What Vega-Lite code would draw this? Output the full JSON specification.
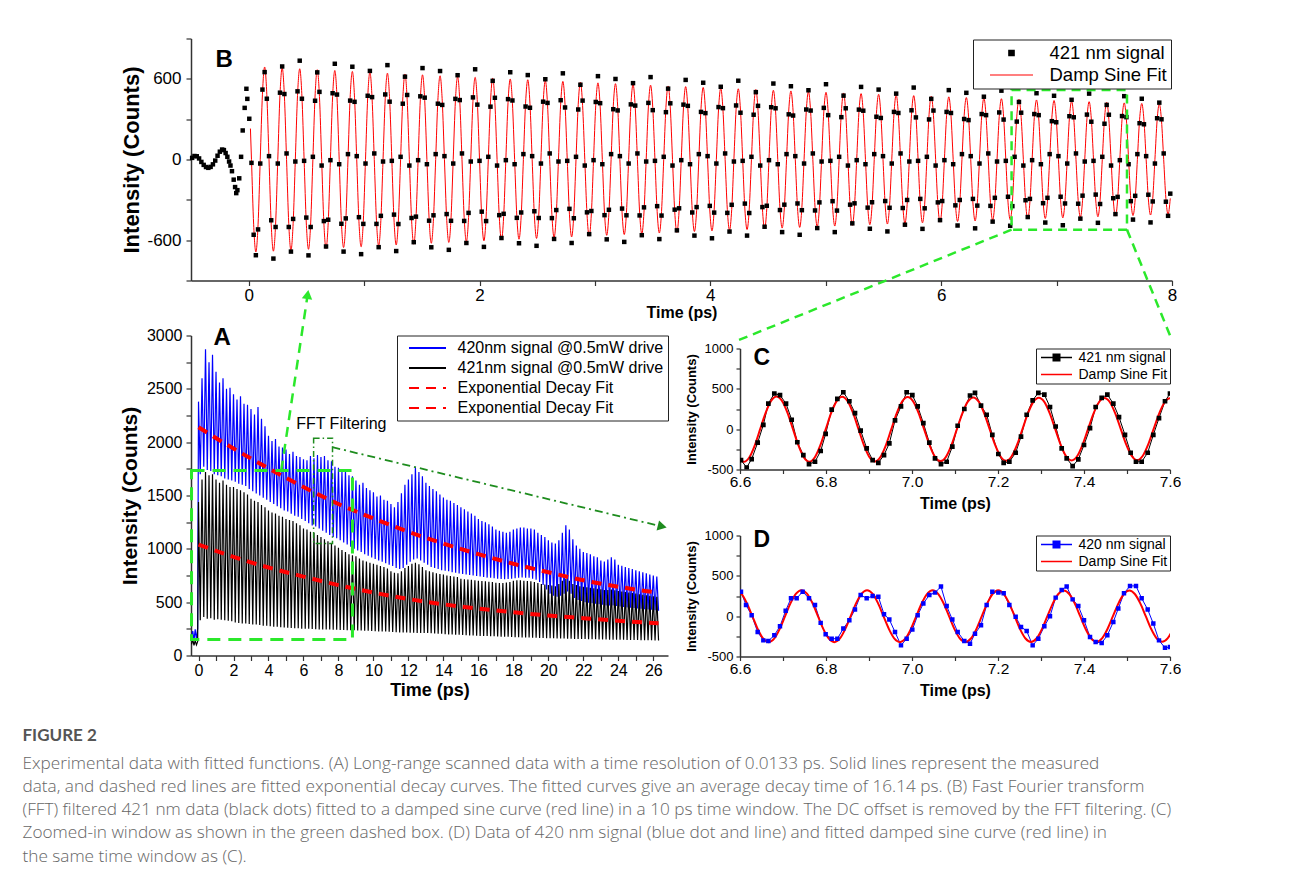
{
"$schema":"https://vega.github.io/schema/vega-lite/v6.json",
"background":"white",
"padding":{"left":22,"top":29.5,"right":0,"bottom":0},
"bounds":"flush",
"spacing":55,
"resolve":{"scale":{"color":"independent","shape":"independent","strokeDash":"independent"},"legend":{"color":"independent","shape":"independent","strokeDash":"independent"}},
"title":{"text":"FIGURE 2","subtitle":["Experimental data with fitted functions. (A) Long-range scanned data with a time resolution of 0.0133 ps. Solid lines represent the measured","data, and dashed red lines are fitted exponential decay curves. The fitted curves give an average decay time of 16.14 ps. (B) Fast Fourier transform","(FFT) filtered 421 nm data (black dots) fitted to a damped sine curve (red line) in a 10 ps time window. The DC offset is removed by the FFT filtering. (C)","Zoomed-in window as shown in the green dashed box. (D) Data of 420 nm signal (blue dot and line) and fitted damped sine curve (red line) in","the same time window as (C)."],"orient":"bottom","anchor":"start","frame":"group","dx":-168.5,"offset":28,"font":"Lato","fontSize":17,"fontWeight":"bold","color":"#555555","subtitleFont":"Open Sans","subtitleFontSize":17.2,"subtitleFontWeight":300,"subtitleColor":"#666666","subtitleLineHeight":23.3,"subtitlePadding":10},
"config":{"font":"Liberation Sans","view":{"stroke":null},
"axis":{"grid":false,"domainColor":"#333","domainWidth":1.5,"tickColor":"#333","tickWidth":1.2,"tickSize":5,"tickCount":100,"labelColor":"#000","titleColor":"#000","labelFont":"Liberation Sans","titleFont":"Liberation Sans","titleFontWeight":"bold","labelFlush":false,"labelOverlap":false,"labelBound":false},
"legend":{"labelFont":"Liberation Sans","labelColor":"#000","strokeColor":"#222","fillColor":"white","symbolType":"stroke"}},
"datasets":{
"bdata":[{"t":-0.49,"d":12},{"t":-0.47,"d":26},{"t":-0.45,"d":24},{"t":-0.43,"d":8},{"t":-0.41,"d":-18},{"t":-0.39,"d":-40},{"t":-0.37,"d":-56},{"t":-0.35,"d":-62},{"t":-0.33,"d":-55},{"t":-0.31,"d":-36},{"t":-0.29,"d":-8},{"t":-0.27,"d":28},{"t":-0.25,"d":58},{"t":-0.23,"d":74},{"t":-0.215,"d":70},{"t":-0.2,"d":48},{"t":-0.185,"d":20},{"t":-0.17,"d":-15},{"t":-0.158,"d":-45},{"t":-0.145,"d":-87},{"t":-0.13,"d":-150},{"t":-0.118,"d":-205},{"t":-0.108,"d":-250},{"t":-0.098,"d":-228},{"t":-0.082,"d":-140},{"t":-0.066,"d":20},{"t":-0.052,"d":216},{"t":-0.035,"d":384},{"t":-0.02,"d":526},{"t":-0.012,"d":451},{"t":0.005,"d":303},{"t":0.015,"f":230},
{"t":0.024,"d":-25,"f":0},{"t":0.043,"d":-560,"f":-486},{"t":0.062,"d":-712,"f":-688},{"t":0.081,"d":-520,"f":-486},{"t":0.1,"d":-30,"f":0},{"t":0.119,"d":520,"f":486},{"t":0.138,"d":650,"f":688},
{"t":0.157,"d":452,"f":482},{"t":0.176,"d":25,"f":0},{"t":0.195,"d":-452,"f":-482},{"t":0.214,"d":-737,"f":-682},{"t":0.233,"d":-502,"f":-482},{"t":0.252,"d":-30,"f":0},{"t":0.271,"d":497,"f":482},{"t":0.29,"d":692,"f":682},
{"t":0.309,"d":487,"f":477},{"t":0.328,"d":45,"f":0},{"t":0.347,"d":-502,"f":-477},{"t":0.366,"d":-685,"f":-675},{"t":0.385,"d":-442,"f":-477},{"t":0.404,"d":-15,"f":0},{"t":0.423,"d":507,"f":477},{"t":0.442,"d":735,"f":675},
{"t":0.461,"d":452,"f":472},{"t":0.48,"d":-10,"f":0},{"t":0.499,"d":-432,"f":-472},{"t":0.518,"d":-713,"f":-668},{"t":0.537,"d":-502,"f":-472},{"t":0.556,"d":20,"f":0},{"t":0.575,"d":437,"f":472},{"t":0.594,"d":648,"f":668},
{"t":0.613,"d":503,"f":468},{"t":0.632,"d":-45,"f":0},{"t":0.651,"d":-458,"f":-468},{"t":0.67,"d":-647,"f":-662},{"t":0.689,"d":-448,"f":-468},{"t":0.708,"d":-5,"f":0},{"t":0.727,"d":493,"f":468},{"t":0.746,"d":712,"f":662},
{"t":0.765,"d":483,"f":463},{"t":0.784,"d":-35,"f":0},{"t":0.803,"d":-478,"f":-463},{"t":0.822,"d":-685,"f":-655},{"t":0.841,"d":-438,"f":-463},{"t":0.86,"d":40,"f":0},{"t":0.879,"d":438,"f":463},{"t":0.898,"d":690,"f":655},
{"t":0.917,"d":429,"f":459},{"t":0.936,"d":25,"f":0},{"t":0.955,"d":-429,"f":-459},{"t":0.974,"d":-704,"f":-649},{"t":0.993,"d":-479,"f":-459},{"t":1.012,"d":-30,"f":0},{"t":1.031,"d":474,"f":459},{"t":1.05,"d":659,"f":649},
{"t":1.069,"d":464,"f":454},{"t":1.088,"d":45,"f":0},{"t":1.107,"d":-479,"f":-454},{"t":1.126,"d":-652,"f":-642},{"t":1.145,"d":-419,"f":-454},{"t":1.164,"d":-15,"f":0},{"t":1.183,"d":484,"f":454},{"t":1.202,"d":702,"f":642},
{"t":1.221,"d":430,"f":450},{"t":1.24,"d":-10,"f":0},{"t":1.259,"d":-410,"f":-450},{"t":1.278,"d":-681,"f":-636},{"t":1.297,"d":-480,"f":-450},{"t":1.316,"d":20,"f":0},{"t":1.335,"d":415,"f":450},{"t":1.354,"d":616,"f":636},
{"t":1.373,"d":480,"f":445},{"t":1.392,"d":-45,"f":0},{"t":1.411,"d":-435,"f":-445},{"t":1.43,"d":-615,"f":-630},{"t":1.449,"d":-425,"f":-445},{"t":1.468,"d":-5,"f":0},{"t":1.487,"d":470,"f":445},{"t":1.506,"d":680,"f":630},
{"t":1.525,"d":460,"f":440},{"t":1.544,"d":-35,"f":0},{"t":1.563,"d":-455,"f":-440},{"t":1.582,"d":-653,"f":-623},{"t":1.601,"d":-415,"f":-440},{"t":1.62,"d":40,"f":0},{"t":1.639,"d":415,"f":440},{"t":1.658,"d":658,"f":623},
{"t":1.677,"d":406,"f":436},{"t":1.696,"d":25,"f":0},{"t":1.715,"d":-406,"f":-436},{"t":1.734,"d":-672,"f":-617},{"t":1.753,"d":-456,"f":-436},{"t":1.772,"d":-30,"f":0},{"t":1.791,"d":451,"f":436},{"t":1.81,"d":627,"f":617},
{"t":1.829,"d":442,"f":432},{"t":1.848,"d":45,"f":0},{"t":1.867,"d":-457,"f":-432},{"t":1.886,"d":-621,"f":-611},{"t":1.905,"d":-397,"f":-432},{"t":1.924,"d":-15,"f":0},{"t":1.943,"d":462,"f":432},{"t":1.962,"d":671,"f":611},
{"t":1.981,"d":408,"f":428},{"t":2.0,"d":-10,"f":0},{"t":2.019,"d":-388,"f":-428},{"t":2.038,"d":-650,"f":-605},{"t":2.057,"d":-458,"f":-428},{"t":2.076,"d":20,"f":0},{"t":2.095,"d":393,"f":428},{"t":2.114,"d":585,"f":605},
{"t":2.133,"d":459,"f":424},{"t":2.152,"d":-45,"f":0},{"t":2.171,"d":-414,"f":-424},{"t":2.19,"d":-584,"f":-599},{"t":2.209,"d":-404,"f":-424},{"t":2.228,"d":-5,"f":0},{"t":2.247,"d":449,"f":424},{"t":2.266,"d":649,"f":599},
{"t":2.285,"d":439,"f":419},{"t":2.304,"d":-35,"f":0},{"t":2.323,"d":-434,"f":-419},{"t":2.342,"d":-623,"f":-593},{"t":2.361,"d":-394,"f":-419},{"t":2.38,"d":40,"f":0},{"t":2.399,"d":394,"f":419},{"t":2.418,"d":628,"f":593},
{"t":2.437,"d":385,"f":415},{"t":2.456,"d":25,"f":0},{"t":2.475,"d":-385,"f":-415},{"t":2.494,"d":-642,"f":-587},{"t":2.513,"d":-435,"f":-415},{"t":2.532,"d":-30,"f":0},{"t":2.551,"d":430,"f":415},{"t":2.57,"d":597,"f":587},
{"t":2.589,"d":421,"f":411},{"t":2.608,"d":45,"f":0},{"t":2.627,"d":-436,"f":-411},{"t":2.646,"d":-591,"f":-581},{"t":2.665,"d":-376,"f":-411},{"t":2.684,"d":-15,"f":0},{"t":2.703,"d":441,"f":411},{"t":2.722,"d":641,"f":581},
{"t":2.741,"d":387,"f":407},{"t":2.76,"d":-10,"f":0},{"t":2.779,"d":-367,"f":-407},{"t":2.798,"d":-621,"f":-576},{"t":2.817,"d":-437,"f":-407},{"t":2.836,"d":20,"f":0},{"t":2.855,"d":372,"f":407},{"t":2.874,"d":556,"f":576},
{"t":2.893,"d":438,"f":403},{"t":2.912,"d":-45,"f":0},{"t":2.931,"d":-393,"f":-403},{"t":2.95,"d":-555,"f":-570},{"t":2.969,"d":-383,"f":-403},{"t":2.988,"d":-5,"f":0},{"t":3.007,"d":428,"f":403},{"t":3.026,"d":620,"f":570},
{"t":3.045,"d":419,"f":399},{"t":3.064,"d":-35,"f":0},{"t":3.083,"d":-414,"f":-399},{"t":3.102,"d":-594,"f":-564},{"t":3.121,"d":-374,"f":-399},{"t":3.14,"d":40,"f":0},{"t":3.159,"d":374,"f":399},{"t":3.178,"d":599,"f":564},
{"t":3.197,"d":365,"f":395},{"t":3.216,"d":25,"f":0},{"t":3.235,"d":-365,"f":-395},{"t":3.254,"d":-613,"f":-558},{"t":3.273,"d":-415,"f":-395},{"t":3.292,"d":-30,"f":0},{"t":3.311,"d":410,"f":395},{"t":3.33,"d":568,"f":558},
{"t":3.349,"d":401,"f":391},{"t":3.368,"d":45,"f":0},{"t":3.387,"d":-416,"f":-391},{"t":3.406,"d":-563,"f":-553},{"t":3.425,"d":-356,"f":-391},{"t":3.444,"d":-15,"f":0},{"t":3.463,"d":421,"f":391},{"t":3.482,"d":613,"f":553},
{"t":3.501,"d":367,"f":387},{"t":3.52,"d":-10,"f":0},{"t":3.539,"d":-347,"f":-387},{"t":3.558,"d":-592,"f":-547},{"t":3.577,"d":-417,"f":-387},{"t":3.596,"d":20,"f":0},{"t":3.615,"d":352,"f":387},{"t":3.634,"d":527,"f":547},
{"t":3.653,"d":418,"f":383},{"t":3.672,"d":-45,"f":0},{"t":3.691,"d":-373,"f":-383},{"t":3.71,"d":-527,"f":-542},{"t":3.729,"d":-363,"f":-383},{"t":3.748,"d":-5,"f":0},{"t":3.767,"d":408,"f":383},{"t":3.786,"d":592,"f":542},
{"t":3.805,"d":399,"f":379},{"t":3.824,"d":-35,"f":0},{"t":3.843,"d":-394,"f":-379},{"t":3.862,"d":-566,"f":-536},{"t":3.881,"d":-354,"f":-379},{"t":3.9,"d":40,"f":0},{"t":3.919,"d":354,"f":379},{"t":3.938,"d":571,"f":536},
{"t":3.957,"d":345,"f":375},{"t":3.976,"d":25,"f":0},{"t":3.995,"d":-345,"f":-375},{"t":4.014,"d":-586,"f":-531},{"t":4.033,"d":-395,"f":-375},{"t":4.052,"d":-30,"f":0},{"t":4.071,"d":390,"f":375},{"t":4.09,"d":541,"f":531},
{"t":4.109,"d":382,"f":372},{"t":4.128,"d":45,"f":0},{"t":4.147,"d":-397,"f":-372},{"t":4.166,"d":-536,"f":-526},{"t":4.185,"d":-337,"f":-372},{"t":4.204,"d":-15,"f":0},{"t":4.223,"d":402,"f":372},{"t":4.242,"d":586,"f":526},
{"t":4.261,"d":348,"f":368},{"t":4.28,"d":-10,"f":0},{"t":4.299,"d":-328,"f":-368},{"t":4.318,"d":-566,"f":-521},{"t":4.337,"d":-398,"f":-368},{"t":4.356,"d":20,"f":0},{"t":4.375,"d":333,"f":368},{"t":4.394,"d":501,"f":521},
{"t":4.413,"d":399,"f":364},{"t":4.432,"d":-45,"f":0},{"t":4.451,"d":-354,"f":-364},{"t":4.47,"d":-500,"f":-515},{"t":4.489,"d":-344,"f":-364},{"t":4.508,"d":-5,"f":0},{"t":4.527,"d":389,"f":364},{"t":4.546,"d":565,"f":515},
{"t":4.565,"d":381,"f":361},{"t":4.584,"d":-35,"f":0},{"t":4.603,"d":-376,"f":-361},{"t":4.622,"d":-540,"f":-510},{"t":4.641,"d":-336,"f":-361},{"t":4.66,"d":40,"f":0},{"t":4.679,"d":336,"f":361},{"t":4.698,"d":545,"f":510},
{"t":4.717,"d":327,"f":357},{"t":4.736,"d":25,"f":0},{"t":4.755,"d":-327,"f":-357},{"t":4.774,"d":-560,"f":-505},{"t":4.793,"d":-377,"f":-357},{"t":4.812,"d":-30,"f":0},{"t":4.831,"d":372,"f":357},{"t":4.85,"d":515,"f":505},
{"t":4.869,"d":364,"f":354},{"t":4.888,"d":45,"f":0},{"t":4.907,"d":-379,"f":-354},{"t":4.926,"d":-510,"f":-500},{"t":4.945,"d":-319,"f":-354},{"t":4.964,"d":-15,"f":0},{"t":4.983,"d":384,"f":354},{"t":5.002,"d":560,"f":500},
{"t":5.021,"d":330,"f":350},{"t":5.04,"d":-10,"f":0},{"t":5.059,"d":-310,"f":-350},{"t":5.078,"d":-540,"f":-495},{"t":5.097,"d":-380,"f":-350},{"t":5.116,"d":20,"f":0},{"t":5.135,"d":315,"f":350},{"t":5.154,"d":475,"f":495},
{"t":5.173,"d":381,"f":346},{"t":5.192,"d":-45,"f":0},{"t":5.211,"d":-336,"f":-346},{"t":5.23,"d":-475,"f":-490},{"t":5.249,"d":-326,"f":-346},{"t":5.268,"d":-5,"f":0},{"t":5.287,"d":371,"f":346},{"t":5.306,"d":540,"f":490},
{"t":5.325,"d":363,"f":343},{"t":5.344,"d":-35,"f":0},{"t":5.363,"d":-358,"f":-343},{"t":5.382,"d":-515,"f":-485},{"t":5.401,"d":-318,"f":-343},{"t":5.42,"d":40,"f":0},{"t":5.439,"d":318,"f":343},{"t":5.458,"d":520,"f":485},
{"t":5.477,"d":309,"f":339},{"t":5.496,"d":25,"f":0},{"t":5.515,"d":-309,"f":-339},{"t":5.534,"d":-535,"f":-480},{"t":5.553,"d":-359,"f":-339},{"t":5.572,"d":-30,"f":0},{"t":5.591,"d":354,"f":339},{"t":5.61,"d":490,"f":480},
{"t":5.629,"d":346,"f":336},{"t":5.648,"d":45,"f":0},{"t":5.667,"d":-361,"f":-336},{"t":5.686,"d":-485,"f":-475},{"t":5.705,"d":-301,"f":-336},{"t":5.724,"d":-15,"f":0},{"t":5.743,"d":366,"f":336},{"t":5.762,"d":535,"f":475},
{"t":5.781,"d":313,"f":333},{"t":5.8,"d":-10,"f":0},{"t":5.819,"d":-293,"f":-333},{"t":5.838,"d":-516,"f":-471},{"t":5.857,"d":-363,"f":-333},{"t":5.876,"d":20,"f":0},{"t":5.895,"d":298,"f":333},{"t":5.914,"d":451,"f":471},
{"t":5.933,"d":364,"f":329},{"t":5.952,"d":-45,"f":0},{"t":5.971,"d":-319,"f":-329},{"t":5.99,"d":-451,"f":-466},{"t":6.009,"d":-309,"f":-329},{"t":6.028,"d":-5,"f":0},{"t":6.047,"d":354,"f":329},{"t":6.066,"d":516,"f":466},
{"t":6.085,"d":346,"f":326},{"t":6.104,"d":-35,"f":0},{"t":6.123,"d":-341,"f":-326},{"t":6.142,"d":-491,"f":-461},{"t":6.161,"d":-301,"f":-326},{"t":6.18,"d":40,"f":0},{"t":6.199,"d":301,"f":326},{"t":6.218,"d":496,"f":461},
{"t":6.237,"d":293,"f":323},{"t":6.256,"d":25,"f":0},{"t":6.275,"d":-293,"f":-323},{"t":6.294,"d":-512,"f":-457},{"t":6.313,"d":-343,"f":-323},{"t":6.332,"d":-30,"f":0},{"t":6.351,"d":338,"f":323},{"t":6.37,"d":467,"f":457},
{"t":6.389,"d":330,"f":320},{"t":6.408,"d":45,"f":0},{"t":6.427,"d":-345,"f":-320},{"t":6.446,"d":-462,"f":-452},{"t":6.465,"d":-285,"f":-320},{"t":6.484,"d":-15,"f":0},{"t":6.503,"d":350,"f":320},{"t":6.522,"d":512,"f":452},
{"t":6.541,"d":297,"f":317},{"t":6.56,"d":-10,"f":0},{"t":6.579,"d":-277,"f":-317},{"t":6.598,"d":-493,"f":-448},{"t":6.617,"d":-347,"f":-317},{"t":6.636,"d":20,"f":0},{"t":6.655,"d":282,"f":317},{"t":6.674,"d":428,"f":448},
{"t":6.693,"d":348,"f":313},{"t":6.712,"d":-45,"f":0},{"t":6.731,"d":-303,"f":-313},{"t":6.75,"d":-428,"f":-443},{"t":6.769,"d":-293,"f":-313},{"t":6.788,"d":-5,"f":0},{"t":6.807,"d":338,"f":313},{"t":6.826,"d":493,"f":443},
{"t":6.845,"d":330,"f":310},{"t":6.864,"d":-35,"f":0},{"t":6.883,"d":-325,"f":-310},{"t":6.902,"d":-469,"f":-439},{"t":6.921,"d":-285,"f":-310},{"t":6.94,"d":40,"f":0},{"t":6.959,"d":285,"f":310},{"t":6.978,"d":474,"f":439},
{"t":6.997,"d":277,"f":307},{"t":7.016,"d":25,"f":0},{"t":7.035,"d":-277,"f":-307},{"t":7.054,"d":-489,"f":-434},{"t":7.073,"d":-327,"f":-307},{"t":7.092,"d":-30,"f":0},{"t":7.111,"d":322,"f":307},{"t":7.13,"d":444,"f":434},
{"t":7.149,"d":314,"f":304},{"t":7.168,"d":45,"f":0},{"t":7.187,"d":-329,"f":-304},{"t":7.206,"d":-440,"f":-430},{"t":7.225,"d":-269,"f":-304},{"t":7.244,"d":-15,"f":0},{"t":7.263,"d":334,"f":304},{"t":7.282,"d":490,"f":430},
{"t":7.301,"d":281,"f":301},{"t":7.32,"d":-10,"f":0},{"t":7.339,"d":-261,"f":-301},{"t":7.358,"d":-471,"f":-426},{"t":7.377,"d":-331,"f":-301},{"t":7.396,"d":20,"f":0},{"t":7.415,"d":266,"f":301},{"t":7.434,"d":406,"f":426},
{"t":7.453,"d":333,"f":298},{"t":7.472,"d":-45,"f":0},{"t":7.491,"d":-288,"f":-298},{"t":7.51,"d":-406,"f":-421},{"t":7.529,"d":-278,"f":-298},{"t":7.548,"d":-5,"f":0},{"t":7.567,"d":323,"f":298},{"t":7.586,"d":471,"f":421},
{"t":7.605,"d":315,"f":295},{"t":7.624,"d":-35,"f":0},{"t":7.643,"d":-310,"f":-295},{"t":7.662,"d":-447,"f":-417},{"t":7.681,"d":-270,"f":-295},{"t":7.7,"d":40,"f":0},{"t":7.719,"d":270,"f":295},{"t":7.738,"d":452,"f":417},
{"t":7.757,"d":262,"f":292},{"t":7.776,"d":25,"f":0},{"t":7.795,"d":-262,"f":-292},{"t":7.814,"d":-468,"f":-413},{"t":7.833,"d":-312,"f":-292},{"t":7.852,"d":-30,"f":0},{"t":7.871,"d":307,"f":292},{"t":7.89,"d":423,"f":413},
{"t":7.909,"d":299,"f":289},{"t":7.928,"d":45,"f":0},{"t":7.947,"d":-314,"f":-289},{"t":7.966,"d":-419,"f":-409},{"t":7.985,"d":-254,"f":-289}],
"adata":[{"t":-0.4,"b":150,"k":105},{"t":-0.33,"b":230,"k":150},{"t":-0.26,"b":140,"k":95},{"t":-0.19,"b":245,"k":140},{"t":-0.12,"b":150,"k":100},{"t":-0.05,"b":255,"k":130},
{"t":0.0,"b":2380,"k":1440},{"t":0.1,"b":1700,"k":330},{"t":0.2,"b":2600,"k":1650},{"t":0.3,"b":1770,"k":360},{"t":0.4,"b":2870,"k":1720},{"t":0.5,"b":1740,"k":345},{"t":0.6,"b":2750,"k":1690},{"t":0.7,"b":1730,"k":350},{"t":0.8,"b":2820,"k":1700},{"t":0.9,"b":1700,"k":335},
{"t":1.0,"b":2660,"k":1650},{"t":1.1,"b":1690,"k":340},{"t":1.2,"b":2560,"k":1620},{"t":1.3,"b":1680,"k":335},{"t":1.4,"b":2600,"k":1640},{"t":1.5,"b":1660,"k":330},{"t":1.6,"b":2500,"k":1600},{"t":1.7,"b":1650,"k":325},{"t":1.8,"b":2510,"k":1580},{"t":1.9,"b":1640,"k":320},
{"t":2.0,"b":2450,"k":1580},{"t":2.1,"b":1630,"k":310},{"t":2.2,"b":2400,"k":1560},{"t":2.3,"b":1610,"k":305},{"t":2.4,"b":2430,"k":1550},{"t":2.5,"b":1600,"k":300},{"t":2.6,"b":2360,"k":1530},{"t":2.7,"b":1590,"k":300},{"t":2.8,"b":2350,"k":1510},{"t":2.9,"b":1560,"k":295},
{"t":3.0,"b":2310,"k":1470},{"t":3.1,"b":1540,"k":290},{"t":3.2,"b":2260,"k":1450},{"t":3.3,"b":1520,"k":290},{"t":3.4,"b":2330,"k":1440},{"t":3.5,"b":1500,"k":285},{"t":3.6,"b":2220,"k":1410},{"t":3.7,"b":1480,"k":280},{"t":3.8,"b":2150,"k":1390},{"t":3.9,"b":1460,"k":280},
{"t":4.0,"b":2060,"k":1360},{"t":4.1,"b":1440,"k":275},{"t":4.2,"b":2010,"k":1340},{"t":4.3,"b":1420,"k":270},{"t":4.4,"b":2030,"k":1330},{"t":4.5,"b":1400,"k":270},{"t":4.6,"b":1960,"k":1310},{"t":4.7,"b":1380,"k":265},{"t":4.8,"b":1950,"k":1300},{"t":4.9,"b":1360,"k":262},
{"t":5.0,"b":1930,"k":1280},{"t":5.1,"b":1350,"k":260},{"t":5.2,"b":1890,"k":1270},{"t":5.3,"b":1330,"k":258},{"t":5.4,"b":1910,"k":1260},{"t":5.5,"b":1310,"k":255},{"t":5.6,"b":1870,"k":1240},{"t":5.7,"b":1300,"k":255},{"t":5.8,"b":1860,"k":1220},{"t":5.9,"b":1280,"k":252},
{"t":6.0,"b":1840,"k":1190},{"t":6.1,"b":1260,"k":250},{"t":6.2,"b":1830,"k":1180},{"t":6.3,"b":1240,"k":250},{"t":6.4,"b":1870,"k":1160},{"t":6.5,"b":1220,"k":248},{"t":6.6,"b":1850,"k":1150},{"t":6.7,"b":1210,"k":246},{"t":6.8,"b":1880,"k":1130},{"t":6.9,"b":1190,"k":245},
{"t":7.0,"b":1860,"k":1110},{"t":7.1,"b":1170,"k":245},{"t":7.2,"b":1870,"k":1090},{"t":7.3,"b":1150,"k":244},{"t":7.4,"b":1830,"k":1070},{"t":7.5,"b":1130,"k":243},{"t":7.6,"b":1820,"k":1050},{"t":7.7,"b":1110,"k":242},{"t":7.8,"b":1770,"k":1030},{"t":7.9,"b":1100,"k":241},
{"t":8.0,"b":1760,"k":1010},{"t":8.1,"b":1080,"k":240},{"t":8.2,"b":1720,"k":990},{"t":8.3,"b":1060,"k":240},{"t":8.4,"b":1740,"k":970},{"t":8.5,"b":1040,"k":238},{"t":8.6,"b":1690,"k":950},{"t":8.7,"b":1020,"k":237},{"t":8.8,"b":1680,"k":940},{"t":8.9,"b":1000,"k":236},
{"t":9.0,"b":1640,"k":930},{"t":9.1,"b":985,"k":235},{"t":9.2,"b":1600,"k":910},{"t":9.3,"b":970,"k":234},{"t":9.4,"b":1620,"k":890},{"t":9.5,"b":950,"k":233},{"t":9.6,"b":1570,"k":880},{"t":9.7,"b":935,"k":232},{"t":9.8,"b":1550,"k":870},{"t":9.9,"b":920,"k":230},
{"t":10.0,"b":1530,"k":860},{"t":10.1,"b":905,"k":228},{"t":10.2,"b":1490,"k":850},{"t":10.3,"b":890,"k":226},{"t":10.4,"b":1500,"k":840},{"t":10.5,"b":880,"k":225},{"t":10.6,"b":1460,"k":830},{"t":10.7,"b":865,"k":224},{"t":10.8,"b":1450,"k":815},{"t":10.9,"b":850,"k":222},
{"t":11.0,"b":1420,"k":790},{"t":11.1,"b":840,"k":220},{"t":11.2,"b":1390,"k":775},{"t":11.3,"b":820,"k":218},{"t":11.4,"b":1440,"k":770},{"t":11.5,"b":810,"k":216},{"t":11.6,"b":1520,"k":790},{"t":11.7,"b":820,"k":215},{"t":11.8,"b":1600,"k":820},{"t":11.9,"b":850,"k":215},
{"t":12.0,"b":1650,"k":840},{"t":12.1,"b":880,"k":214},{"t":12.2,"b":1700,"k":860},{"t":12.3,"b":900,"k":213},{"t":12.4,"b":1770,"k":870},{"t":12.5,"b":910,"k":212},{"t":12.6,"b":1720,"k":855},{"t":12.7,"b":890,"k":212},{"t":12.8,"b":1680,"k":830},{"t":12.9,"b":870,"k":211},
{"t":13.0,"b":1620,"k":800},{"t":13.1,"b":850,"k":210},{"t":13.2,"b":1590,"k":790},{"t":13.3,"b":830,"k":208},{"t":13.4,"b":1560,"k":780},{"t":13.5,"b":820,"k":206},{"t":13.6,"b":1540,"k":770},{"t":13.7,"b":810,"k":205},{"t":13.8,"b":1510,"k":765},{"t":13.9,"b":800,"k":203},
{"t":14.0,"b":1480,"k":760},{"t":14.1,"b":795,"k":200},{"t":14.2,"b":1460,"k":750},{"t":14.3,"b":790,"k":198},{"t":14.4,"b":1450,"k":745},{"t":14.5,"b":780,"k":196},{"t":14.6,"b":1430,"k":740},{"t":14.7,"b":775,"k":195},{"t":14.8,"b":1410,"k":735},{"t":14.9,"b":770,"k":194},
{"t":15.0,"b":1390,"k":720},{"t":15.1,"b":765,"k":192},{"t":15.2,"b":1370,"k":715},{"t":15.3,"b":760,"k":190},{"t":15.4,"b":1350,"k":712},{"t":15.5,"b":755,"k":188},{"t":15.6,"b":1330,"k":710},{"t":15.7,"b":750,"k":187},{"t":15.8,"b":1310,"k":705},{"t":15.9,"b":745,"k":186},
{"t":16.0,"b":1280,"k":700},{"t":16.1,"b":740,"k":184},{"t":16.2,"b":1260,"k":698},{"t":16.3,"b":735,"k":183},{"t":16.4,"b":1250,"k":695},{"t":16.5,"b":730,"k":182},{"t":16.6,"b":1230,"k":692},{"t":16.7,"b":728,"k":181},{"t":16.8,"b":1210,"k":690},{"t":16.9,"b":725,"k":180},
{"t":17.0,"b":1180,"k":682},{"t":17.1,"b":720,"k":178},{"t":17.2,"b":1170,"k":680},{"t":17.3,"b":718,"k":177},{"t":17.4,"b":1160,"k":680},{"t":17.5,"b":716,"k":176},{"t":17.6,"b":1150,"k":685},{"t":17.7,"b":718,"k":175},{"t":17.8,"b":1160,"k":690},{"t":17.9,"b":720,"k":174},
{"t":18.0,"b":1180,"k":700},{"t":18.1,"b":725,"k":172},{"t":18.2,"b":1190,"k":705},{"t":18.3,"b":730,"k":171},{"t":18.4,"b":1200,"k":705},{"t":18.5,"b":732,"k":170},{"t":18.6,"b":1200,"k":700},{"t":18.7,"b":730,"k":169},{"t":18.8,"b":1190,"k":698},{"t":18.9,"b":728,"k":168},
{"t":19.0,"b":1190,"k":695},{"t":19.1,"b":720,"k":167},{"t":19.2,"b":1180,"k":690},{"t":19.3,"b":710,"k":166},{"t":19.4,"b":1150,"k":680},{"t":19.5,"b":690,"k":165},{"t":19.6,"b":1130,"k":670},{"t":19.7,"b":660,"k":164},{"t":19.8,"b":1110,"k":665},{"t":19.9,"b":620,"k":163},
{"t":20.0,"b":1080,"k":660},{"t":20.1,"b":580,"k":162},{"t":20.2,"b":1060,"k":655},{"t":20.3,"b":560,"k":161},{"t":20.4,"b":1050,"k":650},{"t":20.5,"b":550,"k":160},{"t":20.6,"b":1080,"k":670},{"t":20.7,"b":560,"k":160},{"t":20.8,"b":1150,"k":700},{"t":20.9,"b":580,"k":159},
{"t":21.0,"b":1220,"k":720},{"t":21.1,"b":600,"k":158},{"t":21.2,"b":1180,"k":700},{"t":21.3,"b":580,"k":157},{"t":21.4,"b":1090,"k":670},{"t":21.5,"b":540,"k":156},{"t":21.6,"b":1030,"k":660},{"t":21.7,"b":520,"k":156},{"t":21.8,"b":1000,"k":650},{"t":21.9,"b":510,"k":155},
{"t":22.0,"b":970,"k":645},{"t":22.1,"b":500,"k":154},{"t":22.2,"b":960,"k":640},{"t":22.3,"b":495,"k":153},{"t":22.4,"b":950,"k":635},{"t":22.5,"b":490,"k":153},{"t":22.6,"b":930,"k":630},{"t":22.7,"b":485,"k":152},{"t":22.8,"b":920,"k":625},{"t":22.9,"b":480,"k":151},
{"t":23.0,"b":890,"k":620},{"t":23.1,"b":475,"k":150},{"t":23.2,"b":880,"k":615},{"t":23.3,"b":470,"k":150},{"t":23.4,"b":900,"k":615},{"t":23.5,"b":470,"k":149},{"t":23.6,"b":920,"k":618},{"t":23.7,"b":468,"k":148},{"t":23.8,"b":900,"k":612},{"t":23.9,"b":465,"k":148},
{"t":24.0,"b":850,"k":605},{"t":24.1,"b":460,"k":147},{"t":24.2,"b":840,"k":600},{"t":24.3,"b":455,"k":147},{"t":24.4,"b":830,"k":595},{"t":24.5,"b":450,"k":146},{"t":24.6,"b":820,"k":590},{"t":24.7,"b":448,"k":146},{"t":24.8,"b":810,"k":585},{"t":24.9,"b":445,"k":145},
{"t":25.0,"b":800,"k":580},{"t":25.1,"b":440,"k":145},{"t":25.2,"b":790,"k":575},{"t":25.3,"b":438,"k":144},{"t":25.4,"b":780,"k":570},{"t":25.5,"b":435,"k":144},{"t":25.6,"b":770,"k":565},{"t":25.7,"b":432,"k":143},{"t":25.8,"b":760,"k":560},{"t":25.9,"b":430,"k":143},
{"t":26.0,"b":750,"k":555},{"t":26.1,"b":425,"k":142},{"t":26.2,"b":740,"k":550},{"t":26.3,"b":420,"k":140}],
"afitb":[{"t":0,"f":2140},{"t":2,"f":1940},{"t":4,"f":1755},{"t":6,"f":1580},{"t":8,"f":1420},{"t":10,"f":1285},{"t":12,"f":1160},{"t":14,"f":1050},{"t":16,"f":950},{"t":18,"f":860},{"t":20,"f":780},{"t":22,"f":705},{"t":24,"f":645},{"t":26,"f":595},{"t":26.3,"f":590}],
"afitk":[{"t":0,"f":1040},{"t":2,"f":925},{"t":4,"f":825},{"t":6,"f":740},{"t":8,"f":660},{"t":10,"f":590},{"t":12,"f":530},{"t":14,"f":480},{"t":16,"f":440},{"t":18,"f":405},{"t":20,"f":375},{"t":22,"f":350},{"t":24,"f":325},{"t":26,"f":305},{"t":26.3,"f":302}],
"cdata":[{"t":6.6023,"d":-383},{"t":6.6155,"d":-475},{"t":6.6271,"d":-371},{"t":6.6411,"d":-167},{"t":6.6543,"d":54},{"t":6.6659,"d":317},{"t":6.6798,"d":442},{"t":6.693,"d":421},{"t":6.707,"d":317},{"t":6.7202,"d":117},{"t":6.7333,"d":-162},{"t":6.7473,"d":-321},{"t":6.7605,"d":-433},{"t":6.7744,"d":-404},{"t":6.7876,"d":-271},{"t":6.7992,"d":-58},{"t":6.8132,"d":242},{"t":6.8264,"d":375},{"t":6.8403,"d":458},{"t":6.8543,"d":346},{"t":6.8674,"d":200},{"t":6.8806,"d":-17},{"t":6.8946,"d":-237},{"t":6.9085,"d":-383},{"t":6.9217,"d":-417},{"t":6.9349,"d":-321},{"t":6.9473,"d":-175},{"t":6.9605,"d":108},{"t":6.9744,"d":283},{"t":6.9876,"d":458},{"t":7.0008,"d":421},{"t":7.0132,"d":283},{"t":7.0264,"d":75},{"t":7.0403,"d":-167},{"t":7.0535,"d":-362},{"t":7.0674,"d":-433},{"t":7.0806,"d":-404},{"t":7.0938,"d":-217},{"t":7.1062,"d":42},{"t":7.1217,"d":250},{"t":7.1349,"d":417},{"t":7.1465,"d":450},{"t":7.1605,"d":292},{"t":7.1736,"d":179},{"t":7.1868,"d":-71},{"t":7.2008,"d":-308},{"t":7.2132,"d":-417},{"t":7.2264,"d":-404},{"t":7.2411,"d":-292},{"t":7.2535,"d":-92},{"t":7.2667,"d":179},{"t":7.2806,"d":358},{"t":7.2938,"d":450},{"t":7.3078,"d":429},{"t":7.3209,"d":275},{"t":7.3341,"d":33},{"t":7.3481,"d":-237},{"t":7.3597,"d":-362},{"t":7.3736,"d":-458},{"t":7.3868,"d":-375},{"t":7.4,"d":-196},{"t":7.414,"d":13},{"t":7.4271,"d":275},{"t":7.4411,"d":388},{"t":7.4543,"d":429},{"t":7.4682,"d":317},{"t":7.4814,"d":150},{"t":7.4953,"d":-71},{"t":7.5085,"d":-292},{"t":7.5209,"d":-404},{"t":7.5341,"d":-404},{"t":7.5481,"d":-292},{"t":7.5612,"d":-71},{"t":7.5744,"d":138},{"t":7.5884,"d":346},{"t":7.6,"d":442}],
"cfit":[{"t":6.5961,"f":-351},{"t":6.6088,"f":-405},{"t":6.6215,"f":-351},{"t":6.6342,"f":-203},{"t":6.6469,"f":0},{"t":6.6596,"f":203},{"t":6.6723,"f":351},{"t":6.685,"f":405},{"t":6.6977,"f":351},{"t":6.7105,"f":203},{"t":6.7232,"f":0},{"t":6.7359,"f":-202},{"t":6.7486,"f":-350},{"t":6.7613,"f":-404},{"t":6.774,"f":-350},{"t":6.7867,"f":-202},{"t":6.7994,"f":0},{"t":6.8121,"f":201},{"t":6.8248,"f":348},{"t":6.8375,"f":402},{"t":6.8502,"f":348},{"t":6.8629,"f":201},{"t":6.8756,"f":0},{"t":6.8884,"f":-200},{"t":6.9011,"f":-346},{"t":6.9138,"f":-400},{"t":6.9265,"f":-346},{"t":6.9392,"f":-200},{"t":6.9519,"f":0},{"t":6.9646,"f":199},{"t":6.9773,"f":345},{"t":6.99,"f":398},{"t":7.0027,"f":345},{"t":7.0154,"f":199},{"t":7.0281,"f":0},{"t":7.0408,"f":-198},{"t":7.0535,"f":-343},{"t":7.0663,"f":-396},{"t":7.079,"f":-343},{"t":7.0917,"f":-198},{"t":7.1044,"f":0},{"t":7.1171,"f":197},{"t":7.1298,"f":341},{"t":7.1425,"f":394},{"t":7.1552,"f":341},{"t":7.1679,"f":197},{"t":7.1806,"f":0},{"t":7.1933,"f":-196},{"t":7.206,"f":-339},{"t":7.2187,"f":-392},{"t":7.2314,"f":-339},{"t":7.2442,"f":-196},{"t":7.2569,"f":0},{"t":7.2696,"f":195},{"t":7.2823,"f":338},{"t":7.295,"f":390},{"t":7.3077,"f":338},{"t":7.3204,"f":195},{"t":7.3331,"f":0},{"t":7.3458,"f":-194},{"t":7.3585,"f":-336},{"t":7.3712,"f":-388},{"t":7.3839,"f":-336},{"t":7.3966,"f":-194},{"t":7.4093,"f":0},{"t":7.4221,"f":193},{"t":7.4348,"f":334},{"t":7.4475,"f":386},{"t":7.4602,"f":334},{"t":7.4729,"f":193},{"t":7.4856,"f":0},{"t":7.4983,"f":-192},{"t":7.511,"f":-333},{"t":7.5237,"f":-384},{"t":7.5364,"f":-333},{"t":7.5491,"f":-192},{"t":7.5618,"f":0},{"t":7.5745,"f":191},{"t":7.5872,"f":331},{"t":7.6,"f":382},{"t":7.6127,"f":331}],
"ddata":[{"t":6.6023,"d":304},{"t":6.614,"d":138},{"t":6.6271,"d":12},{"t":6.6411,"d":-196},{"t":6.6543,"d":-300},{"t":6.6659,"d":-308},{"t":6.6798,"d":-237},{"t":6.693,"d":-125},{"t":6.7062,"d":67},{"t":6.7186,"d":221},{"t":6.7318,"d":221},{"t":6.7457,"d":304},{"t":6.7605,"d":221},{"t":6.7744,"d":138},{"t":6.7876,"d":-83},{"t":6.7992,"d":-225},{"t":6.8132,"d":-279},{"t":6.8264,"d":-279},{"t":6.8403,"d":-154},{"t":6.8543,"d":-50},{"t":6.8674,"d":83},{"t":6.8806,"d":262},{"t":6.8946,"d":221},{"t":6.9085,"d":250},{"t":6.9217,"d":242},{"t":6.9349,"d":25},{"t":6.9473,"d":-42},{"t":6.9605,"d":-196},{"t":6.9744,"d":-362},{"t":6.9876,"d":-279},{"t":7.0008,"d":-167},{"t":7.0132,"d":12},{"t":7.0264,"d":158},{"t":7.0403,"d":262},{"t":7.0535,"d":292},{"t":7.0674,"d":367},{"t":7.0806,"d":125},{"t":7.0938,"d":-42},{"t":7.1062,"d":-196},{"t":7.1217,"d":-308},{"t":7.1349,"d":-342},{"t":7.1465,"d":-217},{"t":7.1605,"d":-112},{"t":7.1736,"d":138},{"t":7.1868,"d":304},{"t":7.2008,"d":292},{"t":7.2132,"d":283},{"t":7.2264,"d":138},{"t":7.2411,"d":-8},{"t":7.2535,"d":-133},{"t":7.2667,"d":-183},{"t":7.2806,"d":-362},{"t":7.2938,"d":-279},{"t":7.3078,"d":-125},{"t":7.3209,"d":0},{"t":7.3341,"d":230},{"t":7.3481,"d":325},{"t":7.3597,"d":367},{"t":7.3736,"d":208},{"t":7.3868,"d":125},{"t":7.4,"d":-50},{"t":7.414,"d":-258},{"t":7.4271,"d":-321},{"t":7.4411,"d":-333},{"t":7.4543,"d":-237},{"t":7.4682,"d":-71},{"t":7.4798,"d":96},{"t":7.493,"d":283},{"t":7.507,"d":375},{"t":7.5209,"d":375},{"t":7.5341,"d":221},{"t":7.5481,"d":83},{"t":7.5612,"d":-92},{"t":7.5744,"d":-300},{"t":7.5884,"d":-392},{"t":7.6,"d":-383}],
"dfit":[{"t":6.5905,"f":322},{"t":6.6032,"f":279},{"t":6.6159,"f":161},{"t":6.6287,"f":0},{"t":6.6414,"f":-161},{"t":6.6541,"f":-279},{"t":6.6668,"f":-322},{"t":6.6795,"f":-279},{"t":6.6922,"f":-161},{"t":6.7049,"f":0},{"t":6.7176,"f":161},{"t":6.7303,"f":279},{"t":6.743,"f":322},{"t":6.7557,"f":279},{"t":6.7685,"f":161},{"t":6.7812,"f":0},{"t":6.7939,"f":-161},{"t":6.8066,"f":-279},{"t":6.8193,"f":-322},{"t":6.832,"f":-279},{"t":6.8447,"f":-161},{"t":6.8574,"f":0},{"t":6.8701,"f":161},{"t":6.8828,"f":279},{"t":6.8955,"f":322},{"t":6.9082,"f":279},{"t":6.9209,"f":161},{"t":6.9336,"f":0},{"t":6.9464,"f":-161},{"t":6.9591,"f":-279},{"t":6.9718,"f":-322},{"t":6.9845,"f":-279},{"t":6.9972,"f":-161},{"t":7.0099,"f":0},{"t":7.0226,"f":160},{"t":7.0353,"f":277},{"t":7.048,"f":320},{"t":7.0607,"f":277},{"t":7.0734,"f":160},{"t":7.0861,"f":0},{"t":7.0988,"f":-160},{"t":7.1115,"f":-277},{"t":7.1243,"f":-320},{"t":7.137,"f":-277},{"t":7.1497,"f":-160},{"t":7.1624,"f":0},{"t":7.1751,"f":160},{"t":7.1878,"f":277},{"t":7.2005,"f":320},{"t":7.2132,"f":277},{"t":7.2259,"f":160},{"t":7.2386,"f":0},{"t":7.2513,"f":-160},{"t":7.264,"f":-277},{"t":7.2767,"f":-320},{"t":7.2894,"f":-277},{"t":7.3022,"f":-160},{"t":7.3149,"f":0},{"t":7.3276,"f":159},{"t":7.3403,"f":275},{"t":7.353,"f":318},{"t":7.3657,"f":275},{"t":7.3784,"f":159},{"t":7.3911,"f":0},{"t":7.4038,"f":-159},{"t":7.4165,"f":-275},{"t":7.4292,"f":-318},{"t":7.4419,"f":-275},{"t":7.4546,"f":-159},{"t":7.4673,"f":0},{"t":7.4801,"f":159},{"t":7.4928,"f":275},{"t":7.5055,"f":318},{"t":7.5182,"f":275},{"t":7.5309,"f":159},{"t":7.5436,"f":0},{"t":7.5563,"f":-159},{"t":7.569,"f":-275},{"t":7.5817,"f":-318},{"t":7.5944,"f":-275},{"t":7.6071,"f":-159}]
},
"vconcat":[
{"width":981,"height":242,
"layer":[
{"data":{"name":"bdata"},"mark":{"type":"line","strokeWidth":1,"interpolate":"monotone"},
"encoding":{
"x":{"field":"t","type":"quantitative","title":"Time (ps)","scale":{"domain":[-0.5,8],"nice":false,"zero":false},"axis":{"values":[0,1,2,3,4,5,6,7,8],"tickCount":100,"labelExpr":"datum.value % 2 === 0 ? '' + datum.value : ''","labelOverlap":false,"labelFontSize":17,"titleFontSize":16,"labelPadding":2,"titlePadding":1}},
"y":{"field":"f","type":"quantitative","title":"Intensity (Counts)","scale":{"domain":[-900,900],"nice":false,"zero":false},"axis":{"values":[-900,-600,-300,0,300,600,900],"tickCount":100,"labelExpr":"datum.value % 600 === 0 ? '' + datum.value : ''","labelOverlap":false,"labelFontSize":17,"titleFontSize":22,"labelPadding":5,"titlePadding":3}},
"color":{"datum":"Damp Sine Fit","scale":{"domain":["421 nm signal","Damp Sine Fit"],"range":["black","red"]},
"legend":{"title":null,"orient":"top-right","offset":1,"padding":4,"labelFontSize":18.5,"rowPadding":3,"symbolSize":1849,"clipHeight":19,"symbolOffset":12,"labelOffset":15.5,"symbolStrokeWidth":1.2}}}},
{"data":{"name":"bdata"},"mark":{"type":"square","size":20,"opacity":1},
"encoding":{"x":{"field":"t","type":"quantitative","title":"Time (ps)"},"y":{"field":"d","type":"quantitative","title":"Intensity (Counts)"},"color":{"datum":"421 nm signal"}}},
{"data":{"values":[]},"mark":{"type":"point","filled":true,"size":1849},
"encoding":{"shape":{"datum":"421 nm signal","scale":{"domain":["421 nm signal","Damp Sine Fit"],"range":["M-0.125,-0.125H0.125V0.125H-0.125Z","stroke"]},
"legend":{"title":null,"orient":"top-right","offset":1,"padding":4,"labelFontSize":18.5,"rowPadding":3,"symbolSize":1849,"clipHeight":19,"symbolOffset":12,"labelOffset":15.5,"symbolStrokeWidth":1.2}},"color":{"datum":"421 nm signal"}}},
{"data":{"values":[{}]},"mark":{"type":"rect","fill":"transparent","stroke":"#2be82b","strokeWidth":2.5,"strokeDash":[9,6]},
"encoding":{"x":{"datum":6.61,"type":"quantitative"},"x2":{"datum":7.61},"y":{"datum":-522,"type":"quantitative"},"y2":{"datum":517}}},
{"data":{"values":[{}]},"mark":{"type":"rule","stroke":"#2be82b","strokeWidth":2.5,"strokeDash":[9,6]},
"encoding":{"x":{"datum":6.61,"type":"quantitative"},"y":{"datum":-522,"type":"quantitative"},"x2":{"datum":4.24},"y2":{"datum":-1345}}},
{"data":{"values":[{}]},"mark":{"type":"rule","stroke":"#2be82b","strokeWidth":2.5,"strokeDash":[9,6]},
"encoding":{"x":{"datum":7.61,"type":"quantitative"},"y":{"datum":-522,"type":"quantitative"},"x2":{"datum":8.0},"y2":{"datum":-1345}}},
{"data":{"values":[{}]},"mark":{"type":"text","fontSize":24,"fontWeight":"bold","font":"Liberation Sans","color":"black"},
"encoding":{"x":{"datum":-0.212,"type":"quantitative"},"y":{"datum":738,"type":"quantitative"},"text":{"value":"B"}}}
]},
{"hconcat":[
{"width":477,"height":320,
"layer":[
{"data":{"name":"adata"},"mark":{"type":"line","strokeWidth":1.2},
"encoding":{
"x":{"field":"t","type":"quantitative","title":"Time (ps)","scale":{"domain":[-0.43,26.84],"nice":false,"zero":false},"axis":{"values":[0,1,2,3,4,5,6,7,8,9,10,11,12,13,14,15,16,17,18,19,20,21,22,23,24,25,26],"tickCount":100,"labelExpr":"datum.value % 2 === 0 ? '' + datum.value : ''","labelOverlap":false,"labelFontSize":16,"titleFontSize":18,"labelPadding":2,"titlePadding":3}},
"y":{"field":"b","type":"quantitative","title":"Intensity (Counts)","scale":{"domain":[0,3000],"nice":false},"axis":{"values":[0,250,500,750,1000,1250,1500,1750,2000,2250,2500,2750,3000],"tickCount":100,"labelExpr":"datum.value % 500 === 0 ? '' + datum.value : ''","labelOverlap":false,"labelFontSize":16,"titleFontSize":21,"labelPadding":4,"titlePadding":6}},
"color":{"datum":"420nm signal @0.5mW drive","scale":{"domain":["420nm signal @0.5mW drive","421nm signal @0.5mW drive","Exponential Decay Fit","Exponential Decay Fit "],"range":["#0000ff","#000000","#ff0000","#ff0000"]},
"legend":{"title":null,"orient":"top-right","offset":0,"padding":4,"labelFontSize":16,"labelLimit":400,"rowPadding":3,"symbolSize":1369,"clipHeight":17,"symbolOffset":7,"labelOffset":10.5,"symbolStrokeWidth":2}},
"strokeDash":{"datum":"420nm signal @0.5mW drive","scale":{"domain":["420nm signal @0.5mW drive","421nm signal @0.5mW drive","Exponential Decay Fit","Exponential Decay Fit "],"range":[[1,0],[1,0],[10,7],[10,7]]},
"legend":{"title":null,"orient":"top-right","offset":0,"padding":4,"labelFontSize":16,"labelLimit":400,"rowPadding":3,"symbolSize":1369,"clipHeight":17,"symbolOffset":7,"labelOffset":10.5,"symbolStrokeWidth":2}}}},
{"data":{"name":"adata"},"mark":{"type":"line","strokeWidth":1.2},
"encoding":{"x":{"field":"t","type":"quantitative","title":"Time (ps)"},"y":{"field":"k","type":"quantitative","title":"Intensity (Counts)"},"color":{"datum":"421nm signal @0.5mW drive"},"strokeDash":{"datum":"421nm signal @0.5mW drive"}}},
{"data":{"name":"afitb"},"mark":{"type":"line","strokeWidth":4,"interpolate":"monotone"},
"encoding":{"x":{"field":"t","type":"quantitative","title":"Time (ps)"},"y":{"field":"f","type":"quantitative","title":"Intensity (Counts)"},"color":{"datum":"Exponential Decay Fit"},"strokeDash":{"datum":"Exponential Decay Fit"}}},
{"data":{"name":"afitk"},"mark":{"type":"line","strokeWidth":4,"interpolate":"monotone"},
"encoding":{"x":{"field":"t","type":"quantitative","title":"Time (ps)"},"y":{"field":"f","type":"quantitative","title":"Intensity (Counts)"},"color":{"datum":"Exponential Decay Fit "},"strokeDash":{"datum":"Exponential Decay Fit "}}},
{"data":{"values":[{}]},"mark":{"type":"rect","fill":"transparent","stroke":"#2be82b","strokeWidth":3,"strokeDash":[13,8]},
"encoding":{"x":{"datum":-0.4,"type":"quantitative"},"x2":{"datum":8.8},"y":{"datum":150,"type":"quantitative"},"y2":{"datum":1734}}},
{"data":{"values":[{}]},"mark":{"type":"rect","fill":"transparent","stroke":"#1e8c1e","strokeWidth":1.5,"strokeDash":[6,3,1.5,3]},
"encoding":{"x":{"datum":6.58,"type":"quantitative"},"x2":{"datum":7.66},"y":{"datum":1050,"type":"quantitative"},"y2":{"datum":2037}}},
{"data":{"values":[{}]},"mark":{"type":"rule","stroke":"#2be82b","strokeWidth":2.5,"strokeDash":[10,7]},
"encoding":{"x":{"datum":4.73,"type":"quantitative"},"y":{"datum":1734,"type":"quantitative"},"x2":{"datum":6.24},"y2":{"datum":3384}}},
{"data":{"values":[{}]},"mark":{"type":"point","shape":"triangle-up","size":110,"filled":true,"color":"#2be82b","opacity":1,"angle":8.5},
"encoding":{"x":{"datum":6.24,"type":"quantitative"},"y":{"datum":3384,"type":"quantitative"}}},
{"data":{"values":[{}]},"mark":{"type":"rule","stroke":"#1e8c1e","strokeWidth":1.8,"strokeDash":[8,4,2,4]},
"encoding":{"x":{"datum":7.65,"type":"quantitative"},"y":{"datum":1953,"type":"quantitative"},"x2":{"datum":26.51},"y2":{"datum":1209}}},
{"data":{"values":[{}]},"mark":{"type":"point","shape":"triangle-right","size":110,"filled":true,"color":"#1e8c1e","opacity":1,"angle":13.5},
"encoding":{"x":{"datum":26.51,"type":"quantitative"},"y":{"datum":1209,"type":"quantitative"}}},
{"data":{"values":[{}]},"mark":{"type":"text","fontSize":16,"font":"Liberation Sans","align":"left","baseline":"middle","color":"black"},
"encoding":{"x":{"datum":5.58,"type":"quantitative"},"y":{"datum":2175,"type":"quantitative"},"text":{"value":"FFT Filtering"}}},
{"data":{"values":[{}]},"mark":{"type":"text","fontSize":24,"fontWeight":"bold","font":"Liberation Sans","color":"black"},
"encoding":{"x":{"datum":1.35,"type":"quantitative"},"y":{"datum":2981,"type":"quantitative"},"text":{"value":"A"}}}
]},
{"vconcat":[
{"width":430,"height":13,"data":{"values":[{}]},"mark":{"type":"point","opacity":0}},
{"vconcat":[
{"width":430,"height":121,
"layer":[
{"data":{"name":"cdata"},"mark":{"type":"line","strokeWidth":1,"clip":true},
"encoding":{
"x":{"field":"t","type":"quantitative","title":"Time (ps)","scale":{"domain":[6.6,7.6],"nice":false,"zero":false},"axis":{"values":[6.6,6.7,6.8,6.9,7.0,7.1,7.2,7.3,7.4,7.5,7.6],"tickCount":100,"labelExpr":"round(datum.value*10) % 2 === 0 ? format(datum.value, '.1f') : ''","labelOverlap":false,"labelFontSize":15.5,"titleFontSize":16,"tickSize":4,"labelPadding":1,"titlePadding":5}},
"y":{"field":"d","type":"quantitative","title":"Intensity (Counts)","scale":{"domain":[-500,1000],"nice":false,"zero":false},"axis":{"values":[-500,-250,0,250,500,750,1000],"tickCount":100,"labelExpr":"datum.value % 500 === 0 ? '' + datum.value : ''","labelOverlap":false,"labelFontSize":13,"titleFontSize":13,"tickSize":4,"labelPadding":3,"titlePadding":6}},
"color":{"datum":"421 nm signal","scale":{"domain":["421 nm signal","Damp Sine Fit"],"range":["black","red"]},
"legend":{"title":null,"orient":"top-right","offset":0,"padding":2,"labelFontSize":14,"rowPadding":3,"symbolSize":961,"clipHeight":14,"symbolOffset":2,"labelOffset":5.5,"symbolStrokeWidth":1.5}}}},
{"data":{"name":"cfit"},"mark":{"type":"line","strokeWidth":2,"interpolate":"monotone","clip":true},
"encoding":{"x":{"field":"t","type":"quantitative","title":"Time (ps)"},"y":{"field":"f","type":"quantitative","title":"Intensity (Counts)"},"color":{"datum":"Damp Sine Fit"}}},
{"data":{"name":"cdata"},"mark":{"type":"square","size":22,"opacity":1,"clip":true},
"encoding":{"x":{"field":"t","type":"quantitative","title":"Time (ps)"},"y":{"field":"d","type":"quantitative","title":"Intensity (Counts)"},"color":{"datum":"421 nm signal"}}},
{"data":{"values":[]},"mark":{"type":"point","filled":true,"size":961},
"encoding":{"shape":{"datum":"421 nm signal","scale":{"domain":["421 nm signal","Damp Sine Fit"],"range":["M-1,0H1M-0.21,-0.21H0.21V0.21H-0.21Z","stroke"]},
"legend":{"title":null,"orient":"top-right","offset":0,"padding":2,"labelFontSize":14,"rowPadding":3,"symbolSize":961,"clipHeight":14,"symbolOffset":2,"labelOffset":5.5,"symbolStrokeWidth":1.5}},"color":{"datum":"421 nm signal"}}},
{"data":{"values":[{}]},"mark":{"type":"text","fontSize":23,"fontWeight":"bold","font":"Liberation Sans","color":"black"},
"encoding":{"x":{"datum":6.651,"type":"quantitative"},"y":{"datum":888,"type":"quantitative"},"text":{"value":"C"}}}
]},
{"width":430,"height":121,
"layer":[
{"data":{"name":"ddata"},"mark":{"type":"line","strokeWidth":1,"clip":true},
"encoding":{
"x":{"field":"t","type":"quantitative","title":"Time (ps)","scale":{"domain":[6.6,7.6],"nice":false,"zero":false},"axis":{"values":[6.6,6.7,6.8,6.9,7.0,7.1,7.2,7.3,7.4,7.5,7.6],"tickCount":100,"labelExpr":"round(datum.value*10) % 2 === 0 ? format(datum.value, '.1f') : ''","labelOverlap":false,"labelFontSize":15.5,"titleFontSize":16,"tickSize":4,"labelPadding":1,"titlePadding":5}},
"y":{"field":"d","type":"quantitative","title":"Intensity (Counts)","scale":{"domain":[-500,1000],"nice":false,"zero":false},"axis":{"values":[-500,-250,0,250,500,750,1000],"tickCount":100,"labelExpr":"datum.value % 500 === 0 ? '' + datum.value : ''","labelOverlap":false,"labelFontSize":13,"titleFontSize":13,"tickSize":4,"labelPadding":3,"titlePadding":6}},
"color":{"datum":"420 nm signal","scale":{"domain":["420 nm signal","Damp Sine Fit"],"range":["#0000ff","red"]},
"legend":{"title":null,"orient":"top-right","offset":0,"padding":2,"labelFontSize":14,"rowPadding":3,"symbolSize":961,"clipHeight":14,"symbolOffset":2,"labelOffset":5.5,"symbolStrokeWidth":1.5}}}},
{"data":{"name":"dfit"},"mark":{"type":"line","strokeWidth":2,"interpolate":"monotone","clip":true},
"encoding":{"x":{"field":"t","type":"quantitative","title":"Time (ps)"},"y":{"field":"f","type":"quantitative","title":"Intensity (Counts)"},"color":{"datum":"Damp Sine Fit"}}},
{"data":{"name":"ddata"},"mark":{"type":"square","size":20,"opacity":1,"clip":true},
"encoding":{"x":{"field":"t","type":"quantitative","title":"Time (ps)"},"y":{"field":"d","type":"quantitative","title":"Intensity (Counts)"},"color":{"datum":"420 nm signal"}}},
{"data":{"values":[]},"mark":{"type":"point","filled":true,"size":961},
"encoding":{"shape":{"datum":"420 nm signal","scale":{"domain":["420 nm signal","Damp Sine Fit"],"range":["M-1,0H1M-0.21,-0.21H0.21V0.21H-0.21Z","stroke"]},
"legend":{"title":null,"orient":"top-right","offset":0,"padding":2,"labelFontSize":14,"rowPadding":3,"symbolSize":961,"clipHeight":14,"symbolOffset":2,"labelOffset":5.5,"symbolStrokeWidth":1.5}},"color":{"datum":"420 nm signal"}}},
{"data":{"values":[{}]},"mark":{"type":"text","fontSize":23,"fontWeight":"bold","font":"Liberation Sans","color":"black"},
"encoding":{"x":{"datum":6.651,"type":"quantitative"},"y":{"datum":950,"type":"quantitative"},"text":{"value":"D"}}}
]}
],"spacing":66,"bounds":"flush","resolve":{"scale":{"color":"independent","shape":"independent","strokeDash":"independent"},"legend":{"color":"independent","shape":"independent","strokeDash":"independent"}}}
],"spacing":0,"bounds":"flush","resolve":{"scale":{"color":"independent","shape":"independent","strokeDash":"independent"},"legend":{"color":"independent","shape":"independent","strokeDash":"independent"}}}
],"spacing":72,"bounds":"flush","resolve":{"scale":{"color":"independent","shape":"independent","strokeDash":"independent"},"legend":{"color":"independent","shape":"independent","strokeDash":"independent"}}}
]
}
